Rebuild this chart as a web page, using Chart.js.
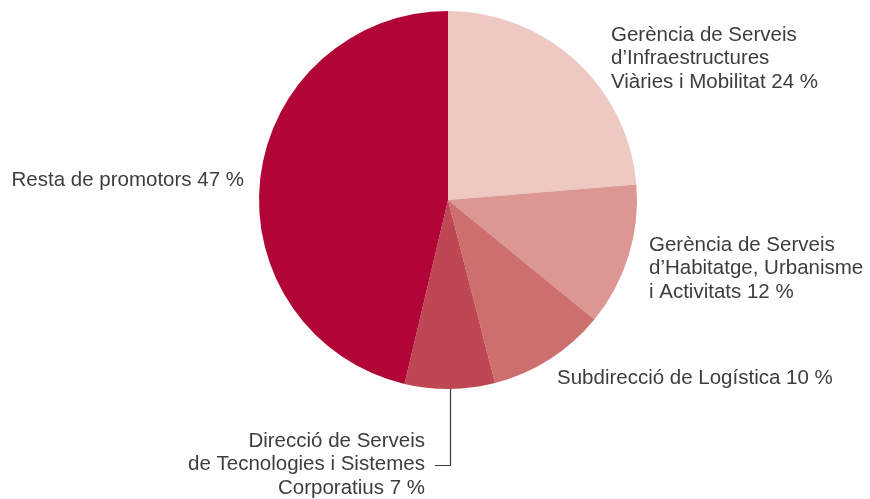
<!DOCTYPE html>
<html>
<head>
<meta charset="utf-8">
<script src="https://cdn.jsdelivr.net/npm/chart.js@4.4.0/dist/chart.umd.min.js"></script>
<style>
  html, body { margin: 0; padding: 0; background: #fff; }
  #wrap { width: 870px; height: 499px; position: relative; }
</style>
</head>
<body>
<div id="wrap"><canvas id="pie"></canvas></div>
<script>
// dades del gràfic
const categories = [
    ['Gerència de Serveis', 'd’Infraestructures', 'Viàries i Mobilitat'],
    ['Gerència de Serveis', 'd’Habitatge, Urbanisme', 'i Activitats'],
    ['Subdirecció de Logística'],
    ['Direcció de Serveis', 'de Tecnologies i Sistemes', 'Corporatius'],
    ['Resta de promotors']
];
// mida de les porcions llegida del dibuix
const values = [23.7, 12.2, 10.1, 7.7, 46.3];
// percentatges tal com apareixen a les etiquetes
const pctLabels = ['24 %', '12 %', '10 %', '7 %', '47 %'];
const colors = ['#eec9c1', '#dc9694', '#ce6f6f', '#be4753', '#b00536'];

// posicions de les etiquetes (x, y de la primera línia, alineació)
const labelPos = [
    { x: 611, y: 35, align: 'left' },
    { x: 649, y: 245, align: 'left' },
    { x: 557, y: 378, align: 'left' },
    { x: 425, y: 441, align: 'right' },
    { x: 244, y: 180, align: 'right' }
];

const labelPlugin = {
    id: 'labels',
    afterDraw(chart) {
        const ctx = chart.ctx;
        ctx.save();
        ctx.font = '20.5px "Liberation Sans", Arial, sans-serif';
        ctx.fillStyle = '#3d3d3d';
        ctx.textBaseline = 'middle';
        categories.forEach((lines, i) => {
            const p = labelPos[i];
            ctx.textAlign = p.align;
            lines.forEach((line, j) => {
                let txt = line;
                if (j === lines.length - 1) txt += ' ' + pctLabels[i];
                ctx.fillText(txt, p.x, p.y + j * 23.5);
            });
        });
        // línia guia de la porció petita
        const arc = chart.getDatasetMeta(0).data[3];
        const mid = (arc.startAngle + arc.endAngle) / 2;
        const x0 = Math.round(arc.x + Math.cos(mid) * arc.outerRadius) + 0.5;
        const y0 = arc.y + Math.sin(mid) * arc.outerRadius;
        ctx.strokeStyle = '#3a3a3a';
        ctx.lineWidth = 1.2;
        ctx.beginPath();
        ctx.moveTo(x0, y0);
        ctx.lineTo(x0, 465.5);
        ctx.lineTo(435, 465.5);
        ctx.stroke();
        ctx.restore();
    }
};

new Chart(document.getElementById('pie'), {
    type: 'pie',
    data: {
        labels: categories.map(c => c.join(' ')),
        datasets: [{
            data: values,
            backgroundColor: colors,
            borderWidth: 0
        }]
    },
    options: {
        responsive: true,
        maintainAspectRatio: false,
        animation: false,
        layout: { padding: { left: 259, right: 233, top: 11, bottom: 110 } },
        plugins: {
            legend: { display: false },
            tooltip: { enabled: false }
        }
    },
    plugins: [labelPlugin]
});
</script>
</body>
</html>
